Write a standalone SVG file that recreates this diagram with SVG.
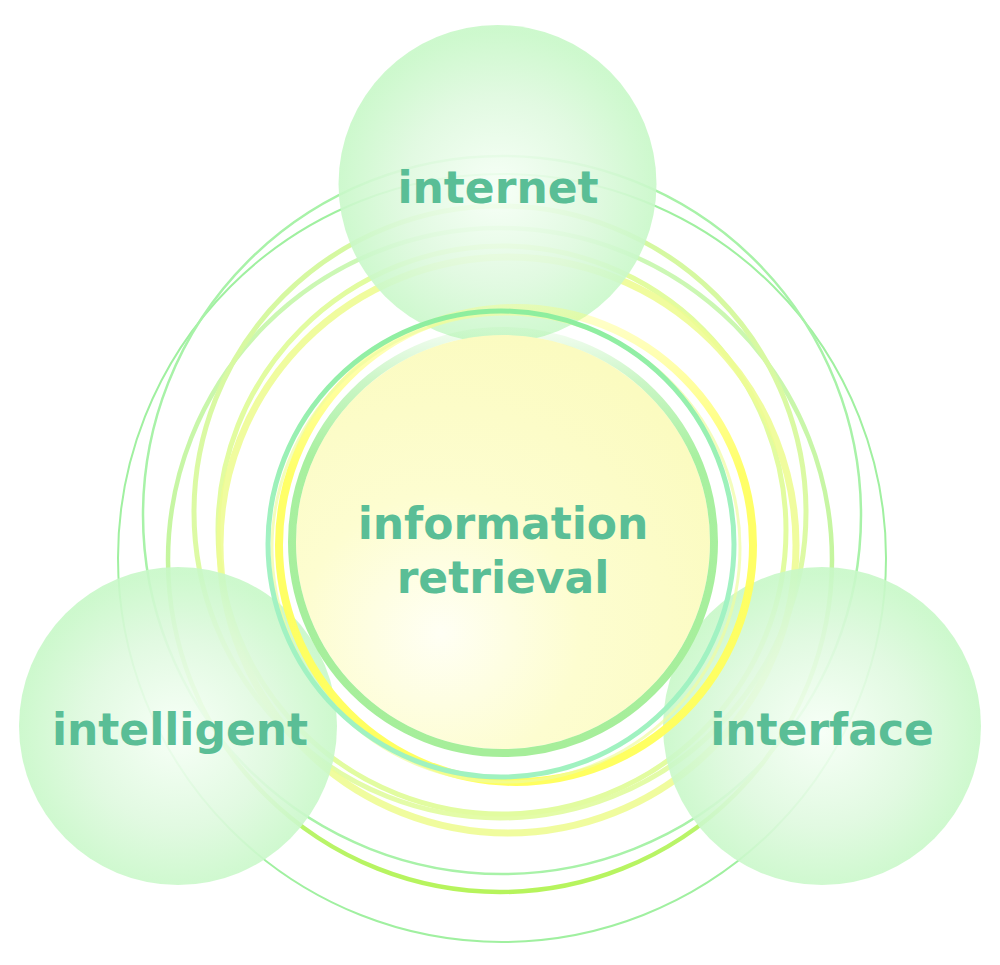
<svg xmlns="http://www.w3.org/2000/svg" width="1000" height="965" viewBox="0 0 1000 965">
<defs>
<radialGradient id="ball" cx="50%" cy="52%" r="50%">
<stop offset="0" stop-color="#f6fff6"/>
<stop offset="0.6" stop-color="#def9de"/>
<stop offset="1" stop-color="#c8f8c8"/>
</radialGradient>
<radialGradient id="core" cx="35%" cy="72%" r="75%">
<stop offset="0" stop-color="#fffff4"/>
<stop offset="0.45" stop-color="#fdfdd0"/>
<stop offset="1" stop-color="#fbfbc0"/>
</radialGradient>
<linearGradient id="gC" x1="0" y1="0" x2="0" y2="1">
<stop offset="0" stop-color="#cdf8b8"/>
<stop offset="0.6" stop-color="#c4f59a"/>
<stop offset="1" stop-color="#b6f45c"/>
</linearGradient>
<linearGradient id="gD" x1="0" y1="0" x2="0" y2="1">
<stop offset="0" stop-color="#d4f8a0"/>
<stop offset="1" stop-color="#e4fca8"/>
</linearGradient>
<linearGradient id="gH" x1="0" y1="0" x2="0" y2="1">
<stop offset="0" stop-color="#ffff60" stop-opacity="0.3"/>
<stop offset="0.35" stop-color="#ffff60" stop-opacity="0.95"/>
<stop offset="1" stop-color="#ffff60"/>
</linearGradient>
<linearGradient id="gG" x1="0" y1="0" x2="0" y2="1">
<stop offset="0" stop-color="#8eee9e"/>
<stop offset="0.5" stop-color="#a2f2c4"/>
<stop offset="1" stop-color="#a0f2c0"/>
</linearGradient>
<linearGradient id="gI" x1="0" y1="0" x2="0" y2="1">
<stop offset="0" stop-color="#a8f0a0" stop-opacity="0.15"/>
<stop offset="0.12" stop-color="#a8f0a0" stop-opacity="0.6"/>
<stop offset="0.3" stop-color="#a8f0a0"/>
<stop offset="1" stop-color="#a6ee9a"/>
</linearGradient>
</defs>
<style>
.ring{fill:none}
.ball{fill:url(#ball);fill-opacity:0.9}
.lbl{font-family:"DejaVu Sans","Verdana",sans-serif;font-weight:bold;font-size:44px;fill:#5abe96;text-anchor:middle}
</style>
<rect width="1000" height="965" fill="#ffffff"/>
<g id="rings">
<circle class="ring" cx="502" cy="558" r="384" stroke="#a0f0a0" stroke-width="2"/>
<circle class="ring" cx="502" cy="515" r="359" stroke="#a8f2a8" stroke-width="2.5"/>
<circle class="ring" cx="500" cy="560" r="332" stroke="url(#gC)" stroke-width="4.5"/>
<circle class="ring" cx="500" cy="512" r="306" stroke="url(#gD)" stroke-width="5"/>
<circle class="ring" cx="502" cy="530" r="284" stroke="#e2fca0" stroke-width="5"/>
<circle class="ring" cx="508" cy="545" r="288" stroke="#eefc94" stroke-width="7" stroke-opacity="0.9"/>
</g>
<g id="node-internet">
<circle class="ball" cx="497.5" cy="184" r="159"/>
</g>
<g id="node-intelligent">
<circle class="ball" cx="178" cy="726" r="159"/>
</g>
<g id="node-interface">
<circle class="ball" cx="822" cy="726" r="159"/>
</g>
<g id="node-center">
<circle class="ring" cx="516" cy="545" r="237" stroke="url(#gH)" stroke-width="8"/>
<circle class="ring" cx="506" cy="548" r="234" stroke="#f0fca0" stroke-width="3" stroke-opacity="0.7"/>
<circle class="ring" cx="501" cy="544" r="233" stroke="url(#gG)" stroke-width="5"/>
<circle cx="503" cy="542" r="207" fill="url(#core)"/>
<circle class="ring" cx="503" cy="542" r="211" stroke="url(#gI)" stroke-width="8"/>
</g>
<g id="labels">
<text class="lbl" x="498" y="203">internet</text>
<text class="lbl" x="180" y="745">intelligent</text>
<text class="lbl" x="822" y="745">interface</text>
<text class="lbl" x="503" y="539">information</text>
<text class="lbl" x="503" y="593">retrieval</text>
</g>
</svg>
